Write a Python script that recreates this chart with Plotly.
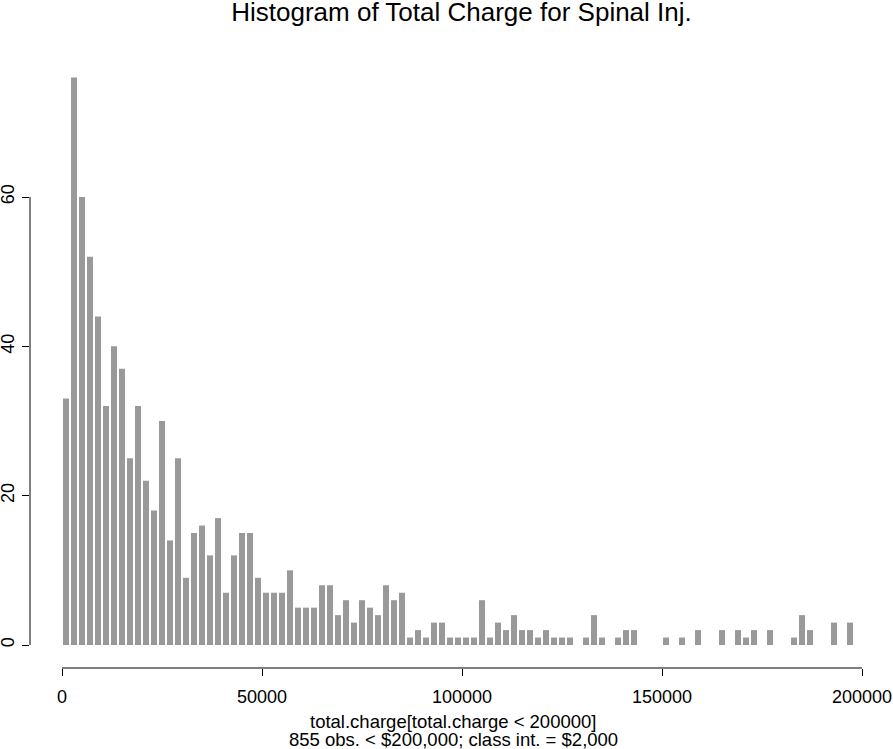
import plotly.graph_objects as go

# Histogram counts, class interval $2,000 from 0 to 200,000
bin_width = 2000
bin_starts = list(range(0, 200000, bin_width))
counts = [
    33, 76, 60, 52, 44, 32, 40, 37, 25, 32,
    22, 18, 30, 14, 25, 9, 15, 16, 12, 17,
    7, 12, 15, 15, 9, 7, 7, 7, 10, 5,
    5, 5, 8, 8, 4, 6, 3, 6, 5, 4,
    8, 6, 7, 1, 2, 1, 3, 3, 1, 1,
    1, 1, 6, 1, 3, 2, 4, 2, 2, 1,
    2, 1, 1, 1, 0, 1, 4, 1, 0, 1,
    2, 2, 0, 0, 0, 1, 0, 1, 0, 2,
    0, 0, 2, 0, 2, 1, 2, 0, 2, 0,
    0, 1, 4, 2, 0, 0, 3, 0, 3, 0,
]
x_ticks = [0, 50000, 100000, 150000, 200000]
x_tick_labels = ["0", "50000", "100000", "150000", "200000"]
y_ticks = [0, 20, 40, 60]
y_tick_labels = ["0", "20", "40", "60"]

title = "Histogram of Total Charge for Spinal Inj."
xlabel1 = "total.charge[total.charge < 200000]"
xlabel2 = "855 obs. < $200,000; class int. = $2,000"

centers = [s + bin_width / 2 for s in bin_starts]

FONT = "Liberation Sans, Arial, Helvetica, sans-serif"

fig = go.Figure()
fig.add_trace(go.Bar(
    x=centers,
    y=counts,
    width=bin_width * 0.75,
    marker=dict(color="#999999", line=dict(width=0)),
    hoverinfo="x+y",
))

# R-style axis lines spanning only the tick range
fig.add_shape(type="line", xref="x", yref="paper",
              x0=x_ticks[0], x1=x_ticks[-1], y0=0, y1=0,
              line=dict(color="black", width=1))
fig.add_shape(type="line", xref="paper", yref="y",
              x0=0, x1=0, y0=y_ticks[0], y1=y_ticks[-1],
              line=dict(color="black", width=1))

fig.update_layout(
    width=893, height=749,
    margin=dict(l=30, r=0, t=55, b=81, pad=0),
    paper_bgcolor="white", plot_bgcolor="white",
    showlegend=False,
    font=dict(family=FONT, color="black", size=18),
    title=dict(text=title, x=0.5, xanchor="center", xref="paper",
               y=0.996, yanchor="top", yref="container",
               font=dict(family=FONT, size=26, color="black")),
    xaxis=dict(range=[-8000, 207750], showgrid=False, zeroline=False,
               showline=False, ticks="outside", ticklen=7, tickcolor="black",
               tickvals=x_ticks, ticktext=x_tick_labels,
               tickfont=dict(size=18), ticklabelstandoff=5, automargin=False),
    yaxis=dict(range=[-3.08, 79.02], showgrid=False, zeroline=False,
               showline=False, ticks="outside", ticklen=7, tickcolor="black",
               tickvals=y_ticks, ticktext=y_tick_labels, tickangle=-90,
               tickfont=dict(size=18), ticklabelstandoff=1, automargin=False),
    annotations=[
        dict(text=xlabel1, xref="paper", yref="paper", x=0.4902, y=0,
             xanchor="center", yanchor="middle", yshift=-53, showarrow=False,
             font=dict(family=FONT, size=18.5)),
        dict(text=xlabel2, xref="paper", yref="paper", x=0.4902, y=0,
             xanchor="center", yanchor="middle", yshift=-71, showarrow=False,
             font=dict(family=FONT, size=18.5)),
    ],
)

fig.write_html(
    "out.html",
    config={"displayModeBar": False},
    post_script="document.body.style.margin='0px';document.body.style.overflow='hidden';",
)
